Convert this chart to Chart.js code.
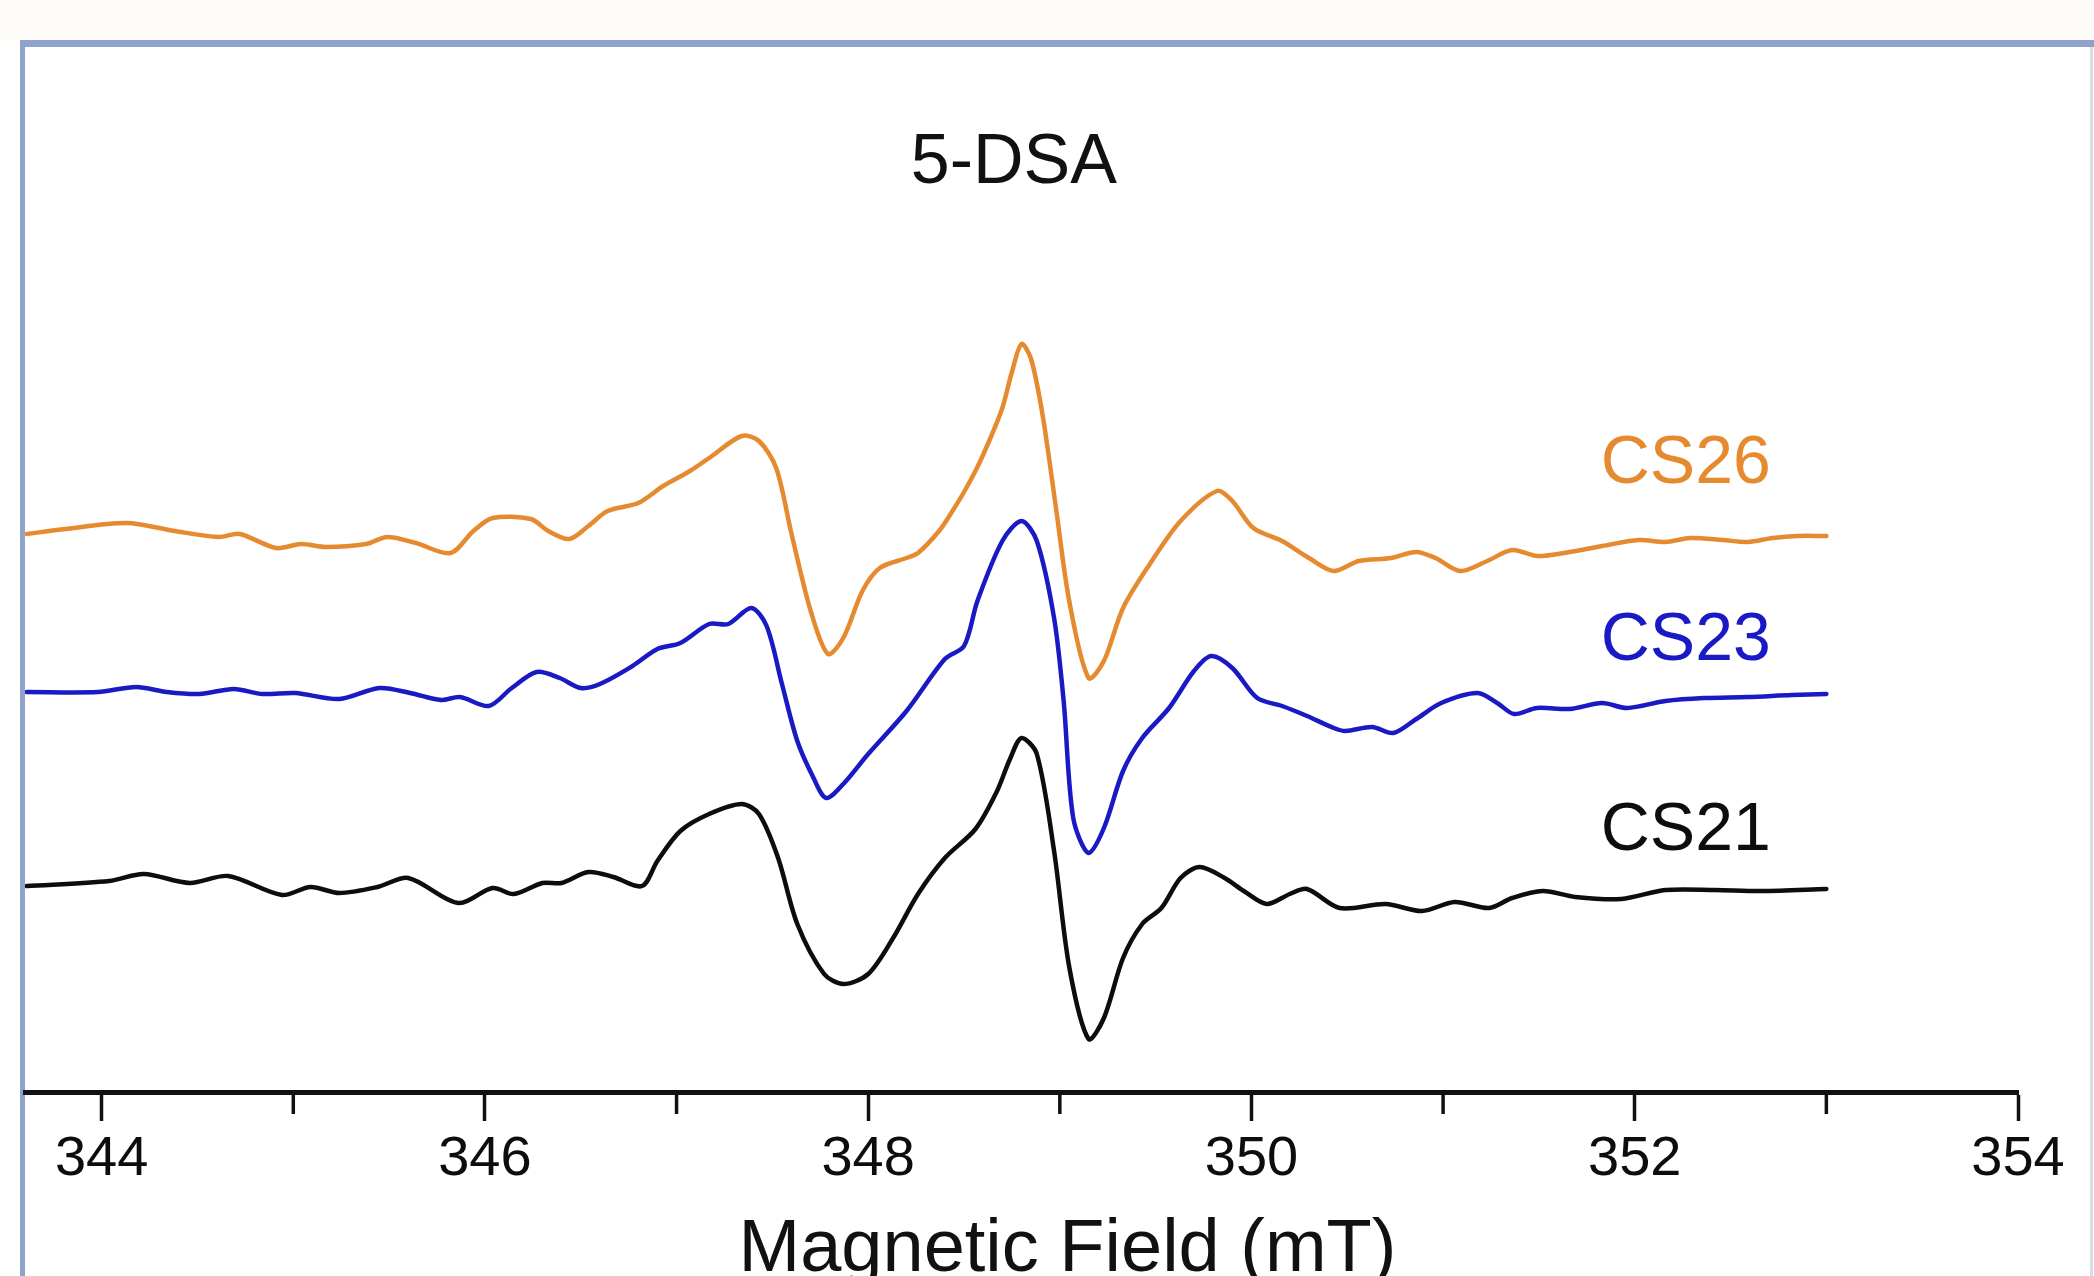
<!DOCTYPE html>
<html>
<head>
<meta charset="utf-8">
<title>5-DSA EPR spectra</title>
<script src="https://cdn.jsdelivr.net/npm/chart.js@4.4.0/dist/chart.umd.min.js"></script>
<style>
  html, body { margin: 0; padding: 0; background: #fff; overflow: hidden; }
</style>
</head>
<body>
<canvas id="esrChart" width="2094" height="1276"></canvas>
<script>
// Field positions (mT) and stacked intensities (a.u.)
const fieldCS26 = [343.61, 343.81, 344.13, 344.38, 344.61, 344.72, 344.91, 345.04, 345.17, 345.38,
  345.49, 345.64, 345.82, 345.94, 346.04, 346.24, 346.33, 346.44, 346.54, 346.64,
  346.80, 346.93, 347.07, 347.17, 347.34, 347.43, 347.52, 347.60, 347.70, 347.79,
  347.87, 347.97, 348.06, 348.20, 348.26, 348.37, 348.43, 348.50, 348.57, 348.64,
  348.70, 348.75, 348.80, 348.85, 348.91, 348.98, 349.05, 349.15, 349.23, 349.33,
  349.47, 349.63, 349.82, 349.90, 350.01, 350.16, 350.30, 350.43, 350.56, 350.73,
  350.86, 350.96, 351.09, 351.23, 351.36, 351.49, 351.66, 351.83, 352.02, 352.16,
  352.29, 352.46, 352.59, 352.72, 352.85, 353.00];
const ampCS26 = [55.8, 56.3, 56.9, 56.1, 55.5, 55.8, 54.4, 54.8, 54.5, 54.8,
  55.5, 54.9, 53.9, 56.1, 57.4, 57.3, 56.1, 55.3, 56.6, 58.1,
  58.9, 60.6, 62.1, 63.4, 65.6, 65.1, 62.4, 55.8, 48.1, 43.8,
  45.4, 50.1, 52.4, 53.4, 53.9, 56.1, 57.8, 60.0, 62.5, 65.5,
  68.4, 72.0, 74.8, 73.3, 67.7, 58.4, 49.0, 41.4, 43.1, 48.4,
  52.8, 57.1, 60.1, 59.1, 56.4, 55.1, 53.4, 52.1, 53.1, 53.4,
  54.0, 53.4, 52.1, 53.1, 54.2, 53.6, 54.0, 54.6, 55.2, 55.0,
  55.4, 55.2, 55.0, 55.4, 55.6, 55.6];

const fieldCS23 = [343.61, 343.98, 344.18, 344.34, 344.51, 344.69, 344.84, 345.01, 345.24, 345.45,
  345.61, 345.77, 345.87, 346.02, 346.14, 346.27, 346.39, 346.50, 346.60, 346.77,
  346.90, 347.02, 347.17, 347.27, 347.39, 347.47, 347.55, 347.63, 347.71, 347.78,
  347.87, 348.00, 348.20, 348.40, 348.50, 348.57, 348.70, 348.80, 348.88, 348.97,
  349.02, 349.07, 349.15, 349.23, 349.33, 349.43, 349.57, 349.70, 349.79, 349.90,
  350.03, 350.16, 350.29, 350.43, 350.49, 350.63, 350.74, 350.86, 350.99, 351.18,
  351.29, 351.37, 351.49, 351.66, 351.83, 351.96, 352.16, 352.36, 352.59, 352.82,
  353.00];
const ampCS23 = [40.0, 40.0, 40.5, 40.0, 39.8, 40.3, 39.8, 39.9, 39.3, 40.4,
  39.9, 39.2, 39.5, 38.6, 40.4, 42.0, 41.4, 40.4, 40.8, 42.6,
  44.3, 44.9, 46.8, 46.8, 48.4, 46.6, 40.8, 35.1, 31.6, 29.4,
  30.8, 33.8, 38.1, 43.3, 44.6, 49.1, 55.1, 57.1, 55.1, 47.4,
  39.1, 27.4, 23.9, 26.4, 32.1, 35.4, 38.4, 42.1, 43.6, 42.4,
  39.4, 38.6, 37.6, 36.4, 36.1, 36.5, 35.9, 37.3, 38.9, 39.9,
  38.8, 37.8, 38.4, 38.3, 38.9, 38.4, 39.1, 39.4, 39.5, 39.7,
  39.8];

const fieldCS21 = [343.61, 344.04, 344.22, 344.46, 344.66, 344.94, 345.09, 345.24, 345.44, 345.60,
  345.86, 346.04, 346.15, 346.30, 346.40, 346.54, 346.67, 346.82, 346.90, 347.02,
  347.17, 347.34, 347.43, 347.53, 347.63, 347.77, 347.87, 348.00, 348.13, 348.26,
  348.40, 348.56, 348.67, 348.74, 348.80, 348.88, 348.97, 349.05, 349.15, 349.23,
  349.33, 349.43, 349.53, 349.63, 349.73, 349.86, 349.96, 350.08, 350.20, 350.29,
  350.46, 350.70, 350.89, 351.06, 351.24, 351.36, 351.52, 351.69, 351.93, 352.16,
  352.42, 352.66, 353.00];
const ampCS21 = [20.6, 21.1, 21.8, 20.9, 21.6, 19.7, 20.5, 19.9, 20.5, 21.4,
  18.9, 20.4, 19.8, 20.9, 20.9, 22.0, 21.5, 20.6, 23.1, 26.1,
  27.8, 28.8, 27.8, 23.4, 16.8, 11.8, 10.8, 11.8, 15.4, 19.8,
  23.4, 26.3, 30.0, 33.3, 35.4, 33.8, 24.1, 12.4, 5.3, 7.4,
  13.4, 16.8, 18.4, 21.4, 22.5, 21.4, 20.1, 18.8, 19.8, 20.3,
  18.4, 18.8, 18.1, 19.0, 18.4, 19.4, 20.1, 19.5, 19.3, 20.2,
  20.2, 20.1, 20.3];

const seriesNames = ['CS26', 'CS23', 'CS21'];
const majorTicks = [344, 346, 348, 350, 352, 354];
const minorTicks = [345, 347, 349, 351, 353];

const FONT = '"Liberation Sans", Arial, Helvetica, sans-serif';
const colors = ['#e68a30', '#1a1ac4', '#0d0d0d'];

function toPoints(fields, amps) {
  return fields.map((f, i) => ({ x: f, y: amps[i] }));
}

// frame, minor ticks and text labels
const decor = {
  id: 'decor',
  beforeDraw(chart) {
    const ctx = chart.ctx;
    const w = chart.width, h = chart.height;
    ctx.save();
    ctx.fillStyle = '#ffffff';
    ctx.fillRect(0, 0, w, h);
    ctx.fillStyle = '#fdfcf9';
    ctx.fillRect(0, 0, w, 40);
    ctx.fillStyle = '#8fa2cb';
    ctx.fillRect(20, 40, w - 20, 7);
    ctx.fillRect(20, 40, 5, h - 40);
    ctx.fillStyle = '#d5dcea';
    ctx.fillRect(w - 4, 47, 3, h - 47);
    ctx.restore();
  },
  afterDraw(chart) {
    const ctx = chart.ctx;
    const x = chart.scales.x, y = chart.scales.y;
    ctx.save();

    // minor ticks (shorter, unlabeled)
    ctx.strokeStyle = '#111';
    ctx.lineWidth = 3.5;
    minorTicks.forEach(v => {
      const px = x.getPixelForValue(v);
      ctx.beginPath();
      ctx.moveTo(px, x.top);
      ctx.lineTo(px, x.top + 22);
      ctx.stroke();
    });

    // panel title
    ctx.fillStyle = '#111';
    ctx.textAlign = 'center';
    ctx.textBaseline = 'alphabetic';
    ctx.font = '70px ' + FONT;
    ctx.fillText('5-DSA', x.getPixelForValue(348.76), y.getPixelForValue(90.9));

    // series labels, right aligned
    const labelLevels = [60.9, 43.2, 24.2];
    ctx.font = '68px ' + FONT;
    ctx.textAlign = 'right';
    seriesNames.forEach((name, i) => {
      ctx.fillStyle = colors[i];
      ctx.fillText(name, x.getPixelForValue(352.71), y.getPixelForValue(labelLevels[i]));
    });

    // axis title (runs off the bottom edge like the original)
    ctx.fillStyle = '#111';
    ctx.textAlign = 'center';
    ctx.font = '74px ' + FONT;
    ctx.fillText('Magnetic Field (mT)', x.getPixelForValue(349.04), x.top + 179);

    ctx.restore();
  }
};

const ctx = document.getElementById('esrChart').getContext('2d');
const esrChart = new Chart(ctx, {
  type: 'line',
  data: {
    datasets: [
      { label: seriesNames[0], data: toPoints(fieldCS26, ampCS26), borderColor: colors[0] },
      { label: seriesNames[1], data: toPoints(fieldCS23, ampCS23), borderColor: colors[1] },
      { label: seriesNames[2], data: toPoints(fieldCS21, ampCS21), borderColor: colors[2] }
    ]
  },
  options: {
    responsive: false,
    animation: false,
    layout: { padding: { left: 25, right: 76, top: 42, bottom: 0 } },
    elements: {
      line: { borderWidth: 4.5, fill: false, tension: 0.3, borderJoinStyle: 'round', borderCapStyle: 'round' },
      point: { radius: 0 }
    },
    plugins: {
      legend: { display: false },
      title: { display: false },
      tooltip: { enabled: false }
    },
    scales: {
      x: {
        type: 'linear',
        position: 'bottom',
        min: 343.6,
        max: 354,
        afterBuildTicks: scale => {
          scale.ticks = majorTicks.map(v => ({ value: v }));
        },
        afterFit: scale => {
          scale.height = 184;
        },
        border: { display: true, color: '#111', width: 5 },
        grid: {
          drawOnChartArea: false,
          drawTicks: true,
          tickLength: 29,
          tickWidth: 3.5,
          tickColor: '#111'
        },
        ticks: {
          autoSkip: false,
          maxRotation: 0,
          padding: 5,
          color: '#0d0d0d',
          font: { family: FONT, size: 56 },
          callback: v => String(v)
        },
        title: { display: false }
      },
      y: {
        display: false,
        min: 0,
        max: 105
      }
    }
  },
  plugins: [decor]
});
</script>
</body>
</html>
